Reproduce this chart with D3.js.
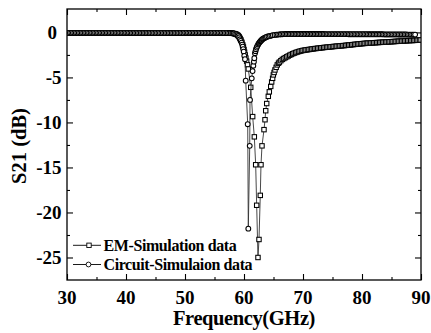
<!DOCTYPE html>
<html><head><meta charset="utf-8">
<script src="https://cdn.jsdelivr.net/npm/d3@7"></script>
<style>body{margin:0;background:#fff}svg text{font-family:"Liberation Serif","Times New Roman",serif;font-weight:bold;fill:#000}</style>
</head><body><svg id="c" width="431" height="333"></svg>
<script>
const xTicks=[30,40,50,60,70,80,90];
const xMinor=[35,45,55,65,75,85];
const yTicks=[0,-5,-10,-15,-20,-25];
const yMinor=[-2.5,-7.5,-12.5,-17.5,-22.5];
const seriesNames=["EM-Simulation data","Circuit-Simulaion data"];

// flat low-frequency region (both series)
const flatFreq=[30,30.25,30.5,30.75,31,31.25,31.5,31.75,32,32.25,32.5,32.75,33,33.25,33.5,33.75,34,34.25,34.5,34.75,35,35.25,35.5,35.75,36,36.25,36.5,36.75,37,37.25,37.5,37.75,38,38.25,38.5,38.75,39,39.25,39.5,39.75,40,40.25,40.5,40.75,41,41.25,41.5,41.75,42,42.25,42.5,42.75,43,43.25,43.5,43.75,44,44.25,44.5,44.75,45,45.25,45.5,45.75,46,46.25,46.5,46.75,47,47.25,47.5,47.75,48,48.25,48.5,48.75,49,49.25,49.5,49.75,50,50.25,50.5,50.75,51,51.25,51.5,51.75,52,52.25,52.5,52.75,53,53.25,53.5,53.75,54,54.25,54.5,54.75,55,55.25,55.5,55.75,56,56.25,56.5,56.75,57,57.25,57.5,57.75];
const emFlatDb=[-0.05,-0.05,-0.05,-0.05,-0.05,-0.05,-0.05,-0.05,-0.05,-0.05,-0.05,-0.05,-0.05,-0.05,-0.05,-0.05,-0.05,-0.05,-0.05,-0.05,-0.05,-0.05,-0.05,-0.05,-0.05,-0.05,-0.05,-0.05,-0.05,-0.05,-0.05,-0.05,-0.05,-0.05,-0.05,-0.05,-0.05,-0.05,-0.05,-0.05,-0.06,-0.06,-0.06,-0.06,-0.07,-0.07,-0.07,-0.07,-0.07,-0.07,-0.07,-0.07,-0.07,-0.07,-0.07,-0.07,-0.07,-0.07,-0.07,-0.07,-0.07,-0.07,-0.07,-0.07,-0.06,-0.06,-0.06,-0.06,-0.06,-0.06,-0.06,-0.06,-0.06,-0.06,-0.06,-0.06,-0.06,-0.06,-0.06,-0.06,-0.05,-0.05,-0.05,-0.05,-0.05,-0.05,-0.05,-0.05,-0.05,-0.05,-0.05,-0.05,-0.05,-0.05,-0.05,-0.05,-0.05,-0.05,-0.05,-0.05,-0.05,-0.05,-0.05,-0.05,-0.06,-0.06,-0.06,-0.06,-0.07,-0.07,-0.08,-0.09];
const circFlatDb=[-0.05,-0.05,-0.05,-0.05,-0.05,-0.05,-0.05,-0.05,-0.05,-0.05,-0.05,-0.05,-0.05,-0.05,-0.05,-0.05,-0.05,-0.05,-0.05,-0.05,-0.05,-0.05,-0.05,-0.05,-0.05,-0.05,-0.05,-0.05,-0.05,-0.05,-0.05,-0.05,-0.05,-0.05,-0.05,-0.05,-0.05,-0.05,-0.05,-0.05,-0.05,-0.05,-0.05,-0.05,-0.06,-0.06,-0.06,-0.06,-0.06,-0.06,-0.06,-0.06,-0.06,-0.06,-0.06,-0.06,-0.06,-0.06,-0.06,-0.06,-0.06,-0.06,-0.06,-0.06,-0.06,-0.06,-0.06,-0.06,-0.06,-0.06,-0.06,-0.06,-0.06,-0.06,-0.06,-0.06,-0.06,-0.06,-0.06,-0.06,-0.05,-0.05,-0.05,-0.05,-0.05,-0.05,-0.05,-0.05,-0.05,-0.05,-0.05,-0.05,-0.05,-0.05,-0.05,-0.05,-0.05,-0.05,-0.05,-0.05,-0.05,-0.05,-0.05,-0.05,-0.05,-0.05,-0.06,-0.06,-0.06,-0.06,-0.07,-0.07];

// EM resonance and tail
const emFreq=[58,58.25,58.5,58.7,58.9,59.05,59.2,59.35,59.5,59.65,59.8,59.9,60,60.1,60.2,60.32,60.45,60.6,60.73,61.14,61.47,61.75,61.98,62.15,62.37,62.54,62.76,62.88,63.05,63.39,63.56,63.68,63.85,64.12,64.29,64.53,64.69,64.85,64.97,65.1,65.25,65.45,65.64,65.85,
66,66.25,66.5,66.75,67,67.25,67.5,67.75,68,68.25,68.5,68.75,69,69.25,69.5,69.75,70,70.25,70.5,70.75,71,71.25,71.5,71.75,72,72.25,72.5,72.75,73,73.25,73.5,73.75,74,74.25,74.5,74.75,75,75.25,75.5,75.75,76,76.25,76.5,76.75,77,77.25,77.5,77.75,78,78.25,78.5,78.75,79,79.25,79.5,79.75,80,80.25,80.5,80.75,81,81.25,81.5,81.75,82,82.25,82.5,82.75,83,83.25,83.5,83.75,84,84.25,84.5,84.75,85,85.25,85.5,85.75,86,86.25,86.5,86.75,87,87.25,87.5,87.75,88,88.25,88.5,88.75,89,89.25,89.5,89.75,90];
const emDb=[-0.1,-0.12,-0.16,-0.21,-0.28,-0.38,-0.5,-0.66,-0.85,-1.1,-1.4,-1.62,-1.9,-2.2,-2.5,-2.85,-3.2,-3.6,-4.06,-6.1,-9.35,-11.6,-14.7,-19.2,-25.0,-23.0,-18.1,-14.7,-12.6,-10.8,-9.7,-8.7,-7.9,-7.1,-6.6,-6.0,-5.5,-5.1,-4.72,-4.45,-4.17,-3.88,-3.61,-3.42,
-3.3,-3.14,-3.0,-2.9,-2.8,-2.71,-2.62,-2.53,-2.45,-2.37,-2.3,-2.24,-2.18,-2.13,-2.08,-2.04,-2.0,-1.97,-1.95,-1.92,-1.9,-1.87,-1.85,-1.82,-1.8,-1.78,-1.76,-1.74,-1.72,-1.7,-1.68,-1.66,-1.65,-1.63,-1.62,-1.6,-1.58,-1.56,-1.55,-1.53,-1.52,-1.5,-1.49,-1.47,-1.46,-1.44,-1.42,-1.4,-1.39,-1.37,-1.35,-1.33,-1.32,-1.3,-1.28,-1.26,-1.25,-1.23,-1.22,-1.2,-1.19,-1.18,-1.17,-1.16,-1.15,-1.14,-1.13,-1.12,-1.11,-1.1,-1.09,-1.08,-1.07,-1.06,-1.05,-1.04,-1.03,-1.02,-1.01,-1.0,-0.99,-0.98,-0.97,-0.96,-0.95,-0.94,-0.93,-0.92,-0.91,-0.9,-0.9,-0.89,-0.88,-0.87,-0.86,-0.85,-0.84];

// Circuit resonance and tail
const circFreq=[58,58.15,58.3,58.5,58.7,58.9,59.05,59.2,59.32,59.45,59.6,59.7,59.78,59.87,59.95,60.05,60.17,60.29,60.63,60.73,60.97,61.02,61.31,61.45,61.58,61.68,61.75,61.86,61.95,62.03,62.15,62.26,62.4,62.5,62.6,62.7,62.8,62.9,63,63.12,63.25,63.4,63.56,63.72,63.9,64.15,64.4,64.65,64.9,65.2,65.5,65.75,66,66.25,66.5,66.75,67,
67.25,67.5,67.75,68,68.25,68.5,68.75,69,69.25,69.5,69.75,70,70.25,70.5,70.75,71,71.25,71.5,71.75,72,72.25,72.5,72.75,73,73.25,73.5,73.75,74,74.25,74.5,74.75,75,75.25,75.5,75.75,76,76.25,76.5,76.75,77,77.25,77.5,77.75,78,78.25,78.5,78.75,79,79.25,79.5,79.75,80,80.25,80.5,80.75,81,81.25,81.5,81.75,82,82.25,82.5,82.75,83,83.25,83.5,83.75,84,84.25,84.5,84.75,85,85.25,85.5,85.75,86,86.25,86.5,86.75,87,87.25,87.5,87.75,88,88.25,88.5,88.75,89,89.25,89.5,89.75,90];
const circDb=[-0.08,-0.1,-0.12,-0.16,-0.22,-0.3,-0.4,-0.55,-0.76,-0.95,-1.13,-1.35,-1.58,-1.85,-2.13,-2.6,-2.98,-5.36,-10.2,-21.8,-12.6,-7.5,-5.1,-4.3,-3.7,-3.25,-2.87,-2.31,-2.08,-1.87,-1.68,-1.5,-1.33,-1.22,-1.13,-1.05,-0.97,-0.9,-0.83,-0.76,-0.7,-0.64,-0.58,-0.53,-0.48,-0.43,-0.39,-0.35,-0.31,-0.28,-0.26,-0.24,-0.22,-0.21,-0.2,-0.19,-0.18,
-0.18,-0.18,-0.18,-0.18,-0.18,-0.18,-0.18,-0.18,-0.18,-0.18,-0.18,-0.18,-0.18,-0.18,-0.18,-0.18,-0.18,-0.18,-0.18,-0.18,-0.18,-0.18,-0.18,-0.18,-0.18,-0.18,-0.19,-0.19,-0.19,-0.19,-0.19,-0.19,-0.19,-0.19,-0.19,-0.19,-0.19,-0.19,-0.19,-0.19,-0.19,-0.19,-0.2,-0.2,-0.2,-0.2,-0.2,-0.2,-0.2,-0.2,-0.2,-0.2,-0.2,-0.2,-0.2,-0.2,-0.21,-0.21,-0.21,-0.21,-0.21,-0.21,-0.21,-0.21,-0.21,-0.21,-0.22,-0.22,-0.22,-0.22,-0.22,-0.22,-0.22,-0.22,-0.22,-0.22,-0.23,-0.23,-0.23,-0.23,-0.23,-0.23,-0.24,-0.24,-0.24,-0.24,-0.24,-0.24];

const svg=d3.select("#c");
const L=67,R=421,T=9,B=280;
const x=d3.scaleLinear().domain([30,90]).range([L,R]);
const y=d3.scaleLinear().domain([-27.5,2.6]).range([B,T]);

function axisSet(axisFn,scale,vals,size,tx,ty){
  svg.append("g").attr("transform",`translate(${tx},${ty})`)
    .call(axisFn(scale).tickValues(vals).tickSizeInner(size).tickSizeOuter(0).tickFormat(""))
    .call(g=>{g.select(".domain").remove();g.selectAll("line").attr("stroke","#000").attr("stroke-width",1.1);});
}
axisSet(d3.axisBottom,x,xTicks,-6,0,B);
axisSet(d3.axisBottom,x,xMinor,-3,0,B);
axisSet(d3.axisTop,x,xTicks,-6,0,T);
axisSet(d3.axisTop,x,xMinor,-3,0,T);
axisSet(d3.axisLeft,y,yTicks,-6,L,0);
axisSet(d3.axisLeft,y,yMinor,-3,L,0);
axisSet(d3.axisRight,y,yTicks,-6,R,0);
axisSet(d3.axisRight,y,yMinor,-3,R,0);

svg.append("clipPath").attr("id","clip").append("rect").attr("x",L).attr("y",T).attr("width",R-L).attr("height",B-T);
const plot=svg.append("g").attr("clip-path","url(#clip)");

const em=flatFreq.map((f,i)=>[f,emFlatDb[i]]).concat(emFreq.map((f,i)=>[f,emDb[i]]));
const ci=flatFreq.map((f,i)=>[f,circFlatDb[i]]).concat(circFreq.map((f,i)=>[f,circDb[i]]));
const line=d3.line().x(d=>x(d[0])).y(d=>y(d[1]));
const S=4.4;
plot.append("path").datum(em).attr("d",line).attr("fill","none").attr("stroke","#333").attr("stroke-width",0.9);
plot.selectAll("rect.em").data(em).enter().append("rect").attr("class","em")
  .attr("x",d=>x(d[0])-S/2).attr("y",d=>y(d[1])-S/2).attr("width",S).attr("height",S)
  .attr("fill","#fff").attr("stroke","#000").attr("stroke-width",1.05);
plot.append("path").datum(ci).attr("d",line).attr("fill","none").attr("stroke","#333").attr("stroke-width",0.9);
plot.selectAll("circle.ci").data(ci).enter().append("circle").attr("class","ci")
  .attr("cx",d=>x(d[0])).attr("cy",d=>y(d[1])).attr("r",2.4)
  .attr("fill","#fff").attr("stroke","#000").attr("stroke-width",1.05);

svg.append("rect").attr("x",L).attr("y",T).attr("width",R-L).attr("height",B-T)
  .attr("fill","none").attr("stroke","#000").attr("stroke-width",1.3);

svg.selectAll("text.xt").data(xTicks).enter().append("text").attr("class","xt")
  .attr("x",d=>x(d)).attr("y",304).attr("text-anchor","middle").attr("font-size",19).text(d=>d);
svg.selectAll("text.yt").data(yTicks).enter().append("text").attr("class","yt")
  .attr("x",d=>d===0?57:61.5).attr("y",d=>y(d)+6.2).attr("text-anchor","end").attr("font-size",19).text(d=>d);

svg.append("text").attr("x",(L+R)/2).attr("y",324.5).attr("text-anchor","middle").attr("font-size",20.5).attr("letter-spacing",-0.4).text("Frequency(GHz)");
svg.append("text").attr("transform","translate(25.5,146) rotate(-90)").attr("text-anchor","middle").attr("font-size",20.5).text("S21 (dB)");

const lg=svg.append("g");
const rows=[245.3,264.5];
seriesNames.forEach((n,i)=>{
  const yy=rows[i];
  lg.append("line").attr("x1",73).attr("x2",101).attr("y1",yy).attr("y2",yy).attr("stroke","#000").attr("stroke-width",0.9);
  if(i===0) lg.append("rect").attr("x",89-S/2).attr("y",yy-S/2).attr("width",S).attr("height",S).attr("fill","#fff").attr("stroke","#000").attr("stroke-width",0.9);
  else lg.append("circle").attr("cx",88.5).attr("cy",yy).attr("r",2.4).attr("fill","#fff").attr("stroke","#000").attr("stroke-width",0.9);
  lg.append("text").attr("x",103.5).attr("y",yy+5.6).attr("font-size",16).attr("letter-spacing",-0.4).text(n);
});
</script></body></html>
